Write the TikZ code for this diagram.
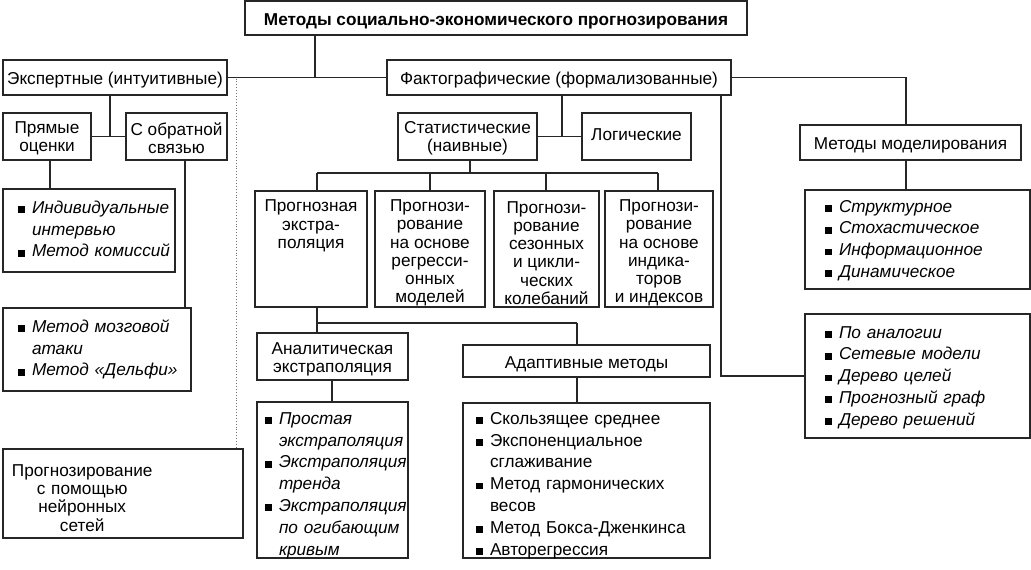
\documentclass[tikz,border=0pt]{standalone}
\usepackage{fontspec}
\setmainfont{Liberation Sans}
\newcommand\bl{\makebox[14pt][l]{\raisebox{0.3pt}{\rule{6.8pt}{6.8pt}}}}
\newcommand\ind{\hspace*{14pt}}
\newcommand\boxfont{\fontsize{17.2}{18.3}\selectfont}
\newcommand\lstfont{\fontsize{17.2}{21.8}\selectfont}
% \bx[text options]{name}{x1}{y1}{x2}{y2}{text shift down}{text}
\newcommand\bx[8][]{%
  \pgfmathsetmacro\bxcx{(#3+#5)/2}%
  \pgfmathsetmacro\bxcy{(#4+#6)/2}%
  \pgfmathsetmacro\bxty{(#4+#6)/2+#7}%
  \pgfmathsetmacro\bxw{#5-#3}%
  \pgfmathsetmacro\bxh{#6-#4}%
  \node[frame, minimum width=\bxw pt, minimum height=\bxh pt] (#2) at (\bxcx,\bxcy) {};
  \node[txt, #1] (#2t) at (\bxcx,\bxty) {#8};}
\begin{document}
\begin{tikzpicture}[x=1pt,y=-1pt,
  frame/.style={draw=black!85, line width=1.3pt, inner sep=0pt},
  txt/.style={inner sep=0pt, align=center, font=\boxfont},
  lst/.style={align=left, text width=#1, font=\lstfont},
  ilst/.style={align=left, text width=#1, font=\lstfont\itshape},
  wire/.style={draw=black!85, line width=1.3pt},
  dots/.style={draw=black!55, line width=0.9pt, dotted}]
\useasboundingbox (0,0) rectangle (1031,570);
\fill[white] (0,0) rectangle (1031,570);
% boxes
\bx[font=\boxfont\bfseries]{title}{245}{1}{747}{35}{3}{Методы социально-экономического прогнозирования}
\bx{expert}{3}{60}{227}{95}{3}{Экспертные (интуитивные)}
\bx{fakto}{387}{60}{731}{95}{3}{Фактографические (формализованные)}
\bx{pryam}{3}{113}{91}{160}{2}{Прямые\\оценки}
\bx{sobr}{126}{113}{227}{160}{2}{С обратной\\связью}
\bx[ilst=142pt]{indiv}{3}{189}{175}{272}{-1.5}{\mbox{\bl Индивидуальные}\\\mbox{\ind интервью}\\\mbox{\bl Метод комиссий}}
\bx[ilst=158pt]{brain}{3}{308}{191}{391}{0}{\mbox{\bl Метод мозговой}\\\mbox{\ind атаки}\\\mbox{\bl Метод «Дельфи»}}
\bx[align=left, text width=222pt]{neur}{3}{449}{243}{538}{6.5}{\begin{tabular}{@{}c@{}}Прогнозирование\\с помощью\\нейронных\\сетей\end{tabular}}
\bx{statist}{398}{113}{537}{160}{2}{Статистические\\(наивные)}
\bx{logic}{582}{113}{691}{160}{-1.5}{Логические}
\bx{model}{800}{125}{1021}{160}{3}{Методы моделирования}
\bx[ilst=185pt]{struct}{805}{190}{1030}{289}{1}{\mbox{\bl Структурное}\\\mbox{\bl Стохастическое}\\\mbox{\bl Информационное}\\\mbox{\bl Динамическое}}
\bx[ilst=185pt]{analog}{805}{314}{1030}{438}{1.5}{\mbox{\bl По аналогии}\\\mbox{\bl Сетевые модели}\\\mbox{\bl Дерево целей}\\\mbox{\bl Прогнозный граф}\\\mbox{\bl Дерево решений}}
\bx{extr}{255}{191}{367}{307}{5.5}{Прогнозная\\экстра-\\поляция\\\strut\\\strut\\\strut}
\bx{regr}{375}{191}{485}{307}{4}{Прогнози-\\рование\\на основе\\регресси-\\онных\\моделей}
\bx{season}{494}{191}{599}{307}{4}{Прогнози-\\рование\\сезонных\\и цикли-\\ческих\\колебаний}
\bx{indic}{605}{191}{713}{307}{4}{Прогнози-\\рование\\на основе\\индика-\\торов\\и индексов}
\bx{analyt}{257}{333}{408}{380}{3}{Аналитическая\\экстраполяция}
\bx{adapt}{463}{345}{710}{377}{3}{Адаптивные методы}
\bx[ilst=135pt]{alist}{257}{402}{408}{558}{5.5}{\mbox{\bl Простая}\\\mbox{\ind экстраполяция}\\\mbox{\bl Экстраполяция}\\\mbox{\ind тренда}\\\mbox{\bl Экстраполяция}\\\mbox{\ind по огибающим}\\\mbox{\ind кривым}}
\bx[lst=221pt]{adlist}{463}{403}{710}{558}{5}{\mbox{\bl Скользящее среднее}\\\mbox{\bl Экспоненциальное}\\\mbox{\ind сглаживание}\\\mbox{\bl Метод гармонических}\\\mbox{\ind весов}\\\mbox{\bl Метод Бокса-Дженкинса}\\\mbox{\bl Авторегрессия}}
% connectors
\coordinate (j1) at (315,77.5);
\draw[wire] (title.south -| j1) -- (j1);
\draw[wire] (expert.east) -- (fakto.west);
\coordinate (d1) at (236,78.5);
\draw[dots] (d1) -- (d1 |- neur.north);
\coordinate (j2) at (110,136.5);
\draw[wire] (expert.south -| j2) -- (j2);
\draw[wire] (pryam.east) -- (sobr.west);
\coordinate (j3) at (50,0);
\draw[wire] (pryam.south -| j3) -- (indiv.north -| j3);
\coordinate (j4) at (185,0);
\draw[wire] (sobr.south -| j4) -- (brain.north -| j4);
\coordinate (j5) at (562,136.5);
\draw[wire] (fakto.south -| j5) -- (j5);
\draw[wire] (statist.east) -- (logic.west);
\coordinate (j6) at (721,0);
\draw[wire] (fakto.south -| j6) |- (analog.west);
\coordinate (j7) at (906,0);
\draw[wire] (fakto.east) -| (model.north -| j7);
\draw[wire] (model.south -| j7) -- (struct.north -| j7);
\coordinate (j8) at (470,173);
\draw[wire] (statist.south -| j8) -- (j8);
\coordinate (b1) at (317,173);
\coordinate (b2) at (430,173);
\coordinate (b3) at (546,173);
\coordinate (b4) at (658,173);
\draw[wire] (b1) -- (b4);
\draw[wire] (b1) -- (b1 |- extr.north);
\draw[wire] (b2) -- (b2 |- regr.north);
\draw[wire] (b3) -- (b3 |- season.north);
\draw[wire] (b4) -- (b4 |- indic.north);
\coordinate (c1) at (317,323);
\coordinate (c2) at (577,323);
\draw[wire] (extr.south -| c1) -- (c1) -- (c2);
\draw[wire] (c1) -- (c1 |- analyt.north);
\draw[wire] (c2) -- (c2 |- adapt.north);
\coordinate (c3) at (332,0);
\draw[wire] (analyt.south -| c3) -- (alist.north -| c3);
\draw[wire] (adapt.south -| c2) -- (adlist.north -| c2);
\end{tikzpicture}
\end{document}
